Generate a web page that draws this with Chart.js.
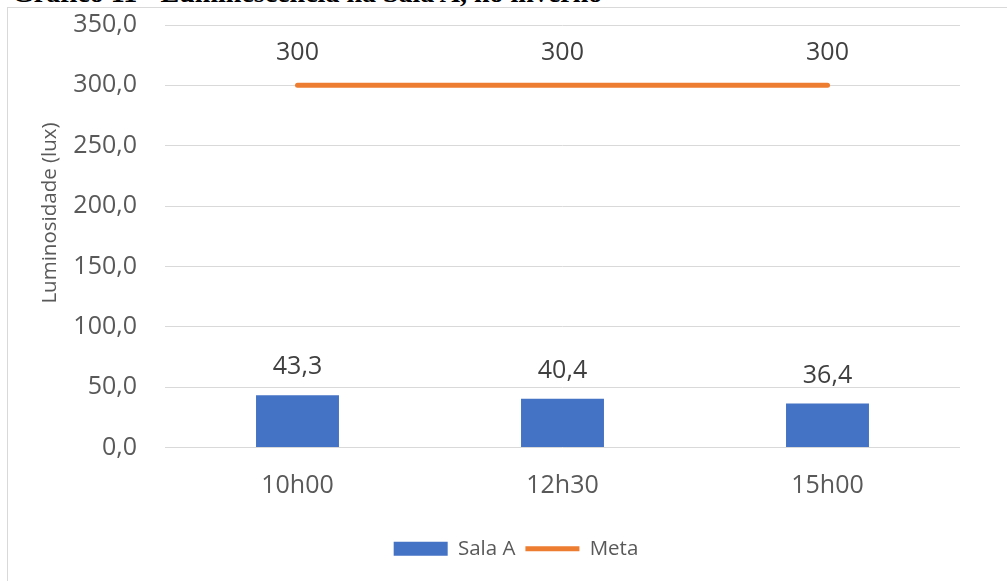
<!DOCTYPE html>
<html>
<head>
<meta charset="utf-8">
<script src="https://cdn.jsdelivr.net/npm/chart.js@4.4.0/dist/chart.umd.min.js"></script>
<style>
  html, body { margin: 0; padding: 0; background: #fff; overflow: hidden; }
  #wrap { position: relative; width: 1007px; height: 581px; }
  #title { position: absolute; left: 12px; top: -23px; font: bold 28px "Liberation Serif", serif; color: #000; white-space: nowrap; }
  #frame { position: absolute; left: 7px; top: 7px; width: 1100px; height: 700px; border: 1px solid #d9d9d9; background: #fff; }
  canvas { position: absolute; left: 0; top: 0; }
</style>
</head>
<body>
<div id="wrap">
  <div id="title">Gráfico 11 - Luminescência na Sala A, no inverno</div>
  <div id="frame"></div>
  <canvas id="chart" width="1007" height="581"></canvas>
</div>
<script>
const categories = ['10h00', '12h30', '15h00'];
const salaA = [43.3, 40.4, 36.4];
const meta = [300, 300, 300];
const yTicks = [0, 50, 100, 150, 200, 250, 300, 350];
const yTitle = 'Luminosidade (lux)';

const FONT = '"Open Sans", sans-serif';
const fmt = v => v.toFixed(1).replace('.', ',');

// value labels above bars and line points
const valueLabels = {
    id: 'valueLabels',
    afterDatasetsDraw(chart) {
        const ctx = chart.ctx;
        ctx.save();
        ctx.font = '25px ' + FONT;
        ctx.fillStyle = '#404040';
        ctx.textAlign = 'center';
        ctx.textBaseline = 'middle';
        chart.data.datasets.forEach((ds, i) => {
            const m = chart.getDatasetMeta(i);
            m.data.forEach((el, j) => {
                const txt = ds.type === 'line' ? String(ds.data[j]) : fmt(ds.data[j]);
                const off = ds.type === 'line' ? 32 : 28;
                ctx.fillText(txt, el.x, el.y - off);
            });
        });
        ctx.restore();
    }
};

// axis title sits a bit above the middle, like the excel original
const sideTitle = {
    id: 'sideTitle',
    afterLayout(chart) {
        // nudge the legend to the right
        chart.legend.left += 36;
        chart.legend.right += 36;
    },
    afterDraw(chart) {
        const ctx = chart.ctx;
        ctx.save();
        ctx.translate(50, 213);
        ctx.rotate(-Math.PI / 2);
        ctx.font = '20.5px ' + FONT;
        ctx.fillStyle = '#595959';
        ctx.textAlign = 'center';
        ctx.textBaseline = 'middle';
        ctx.fillText(yTitle, 0, 0);
        ctx.restore();
    }
};

new Chart(document.getElementById('chart'), {
    data: {
        labels: categories,
        datasets: [
            {
                type: 'line',
                label: 'Meta',
                data: meta,
                borderColor: '#ED7D31',
                backgroundColor: '#ED7D31',
                borderWidth: 5,
                borderCapStyle: 'round',
                pointRadius: 0,
                pointStyle: 'line',
                order: 0
            },
            {
                type: 'bar',
                label: 'Sala A',
                data: salaA,
                backgroundColor: '#4472C4',
                borderWidth: 0,
                pointStyle: 'rect',
                categoryPercentage: 1,
                barPercentage: 0.313,
                order: 1
            }
        ]
    },
    options: {
        responsive: false,
        animation: false,
        layout: { padding: { top: 25, right: 47, bottom: 12, left: 0 } },
        plugins: {
            tooltip: { enabled: false },
            legend: {
                position: 'bottom',
                reverse: true,
                labels: {
                    usePointStyle: true,
                    pointStyleWidth: 54,
                    boxHeight: 14,
                    padding: 10,
                    color: '#595959',
                    font: { family: FONT, size: 20.5 }
                }
            }
        },
        scales: {
            x: {
                grid: { display: false, drawTicks: false },
                border: { display: false },
                ticks: {
                    color: '#595959',
                    padding: 23,
                    font: { family: FONT, size: 25 }
                },
                afterFit(axis) { axis.height = 81; }
            },
            y: {
                min: 0,
                max: 350,
                afterBuildTicks(axis) { axis.ticks = yTicks.map(v => ({ value: v })); },
                grid: { color: '#d9d9d9', lineWidth: 1, drawTicks: false },
                border: { display: false },
                ticks: {
                    color: '#595959',
                    padding: 28,
                    font: { family: FONT, size: 25 },
                    callback: v => fmt(v)
                },
                afterFit(axis) {
                    axis.width = 165;
                    axis.paddingTop = 0;
                    axis.paddingBottom = 0;
                }
            }
        }
    },
    plugins: [valueLabels, sideTitle]
});
</script>
</body>
</html>
